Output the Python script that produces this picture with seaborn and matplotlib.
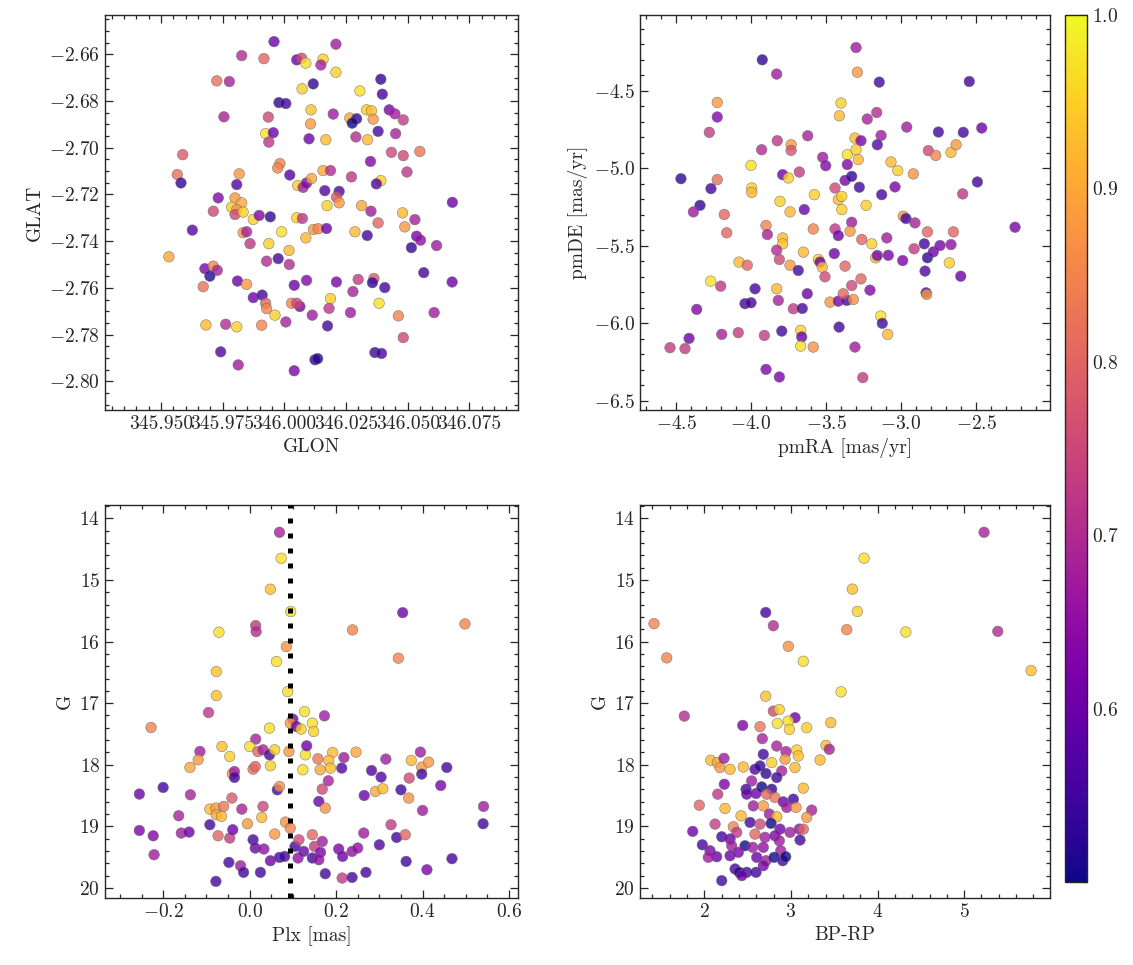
import numpy as np
import pandas as pd
import matplotlib
matplotlib.use("Agg")
import matplotlib.pyplot as plt
import seaborn as sns
from matplotlib.ticker import MultipleLocator, FormatStrFormatter
from matplotlib.colors import Normalize
from matplotlib.cm import ScalarMappable

# --- panel 1: sky position ---
glon = [345.9958, 345.9827, 345.9917, 346.0050, 346.0070, 346.0087, 345.9726, 345.9777, 346.0072, 346.0117,
        345.9978, 346.0006, 345.9755, 345.9935, 346.0108, 346.0106, 345.9924, 345.9955, 345.9937, 346.0100,
        345.9588, 345.9566, 345.9581, 345.9817, 345.9807, 345.9982, 345.9973, 346.0022, 346.0054, 346.0076,
        346.0090, 346.0110, 345.9732, 345.9800, 345.9827, 345.9786, 345.9807, 345.9712, 345.9800, 345.9833,
        345.9874, 345.9898, 345.9943, 346.0050, 346.0073, 346.0118, 345.9627, 345.9532, 345.9833, 345.9847,
        345.9861, 345.9937, 345.9989, 346.0087, 346.0019, 345.9928, 345.9975, 346.0020, 345.9678, 345.9712,
        345.9728, 345.9698, 345.9671, 345.9810, 345.9847, 346.0040, 346.0090, 345.9874, 345.9910, 345.9924,
        345.9928, 345.9962, 346.0006, 346.0029, 346.0063, 346.0113, 345.9682, 345.9762, 345.9807, 345.9908,
        345.9742, 345.9813, 346.0040, 346.0124, 346.0050, 346.0209, 346.0157, 346.0148, 346.0209, 346.0391,
        346.0397, 346.0306, 346.0198, 346.0168, 346.0265, 346.0293, 346.0275, 346.0333, 346.0353, 346.0360,
        346.0290, 346.0337, 346.0380, 346.0425, 346.0448, 346.0482, 346.0451, 346.0434, 346.0482, 346.0549,
        346.0349, 346.0497, 346.0272, 346.0391, 346.0373, 346.0157, 346.0187, 346.0164, 346.0222, 346.0211,
        346.0222, 346.0173, 346.0313, 346.0351, 346.0479, 346.0681, 346.0380, 346.0529, 346.0488, 346.0137,
        346.0171, 346.0286, 346.0336, 346.0536, 346.0552, 346.0515, 346.0617, 346.0211, 346.0299, 346.0363,
        346.0357, 346.0407, 346.0278, 346.0565, 346.0680, 346.0187, 346.0181, 346.0175, 346.0268, 346.0384,
        346.0462, 346.0607, 346.0482, 346.0367, 346.0394, 346.0135]
glat = [-2.6546, -2.6606, -2.6619, -2.6624, -2.6617, -2.6638, -2.6714, -2.6717, -2.6748, -2.6727,
        -2.6807, -2.6811, -2.6868, -2.6869, -2.6838, -2.6898, -2.6940, -2.6936, -2.6976, -2.6962,
        -2.7030, -2.7115, -2.7151, -2.7112, -2.7158, -2.7068, -2.7087, -2.7117, -2.7162, -2.7170,
        -2.7151, -2.7132, -2.7215, -2.7215, -2.7236, -2.7255, -2.7265, -2.7272, -2.7286, -2.7276,
        -2.7307, -2.7290, -2.7296, -2.7300, -2.7303, -2.7350, -2.7353, -2.7467, -2.7364, -2.7360,
        -2.7411, -2.7411, -2.7360, -2.7386, -2.7440, -2.7486, -2.7475, -2.7500, -2.7518, -2.7507,
        -2.7525, -2.7550, -2.7595, -2.7571, -2.7585, -2.7589, -2.7568, -2.7642, -2.7631, -2.7666,
        -2.7689, -2.7717, -2.7746, -2.7666, -2.7680, -2.7717, -2.7759, -2.7756, -2.7767, -2.7760,
        -2.7874, -2.7930, -2.7955, -2.7908, -2.7666, -2.6557, -2.6621, -2.6646, -2.6677, -2.6707,
        -2.6771, -2.6757, -2.6856, -2.6966, -2.6873, -2.6876, -2.6895, -2.6838, -2.6842, -2.6878,
        -2.6954, -2.6966, -2.6930, -2.6838, -2.6855, -2.6881, -2.6940, -2.7020, -2.7034, -2.7016,
        -2.7059, -2.7104, -2.7125, -2.7141, -2.7155, -2.7098, -2.7098, -2.7184, -2.7187, -2.7212,
        -2.7236, -2.7248, -2.7248, -2.7272, -2.7279, -2.7234, -2.7322, -2.7308, -2.7339, -2.7347,
        -2.7346, -2.7360, -2.7376, -2.7379, -2.7396, -2.7428, -2.7419, -2.7575, -2.7564, -2.7560,
        -2.7578, -2.7599, -2.7616, -2.7535, -2.7575, -2.7646, -2.7688, -2.7763, -2.7706, -2.7666,
        -2.7720, -2.7706, -2.7813, -2.7877, -2.7881, -2.7903]
prob1 = [0.60, 0.70, 0.80, 0.60, 0.75, 0.97, 0.82, 0.68, 0.95, 0.53,
         0.53, 0.55, 0.68, 0.75, 0.93, 0.88, 0.97, 0.60, 0.72, 0.60,
         0.78, 0.82, 0.53, 0.88, 0.57, 0.85, 0.85, 0.57, 0.95, 0.68,
         0.62, 0.90, 0.63, 0.88, 0.90, 0.95, 0.88, 0.75, 0.75, 0.95,
         0.95, 0.63, 0.53, 0.95, 0.72, 0.88, 0.57, 0.90, 0.88, 0.68,
         0.72, 0.95, 0.97, 0.92, 0.92, 0.70, 0.55, 0.70, 0.62, 0.85,
         0.68, 0.52, 0.82, 0.60, 0.88, 0.60, 0.63, 0.60, 0.55, 0.80,
         0.85, 0.95, 0.68, 0.85, 0.62, 0.67, 0.92, 0.70, 0.95, 0.85,
         0.57, 0.67, 0.62, 0.53, 0.75, 0.67, 0.95, 0.68, 0.95, 0.53,
         0.55, 0.97, 0.67, 0.92, 0.90, 0.53, 0.50, 0.95, 0.93, 0.88,
         0.70, 0.92, 0.55, 0.62, 0.67, 0.73, 0.68, 0.75, 0.75, 0.83,
         0.63, 0.72, 0.72, 0.95, 0.57, 0.90, 0.70, 0.57, 0.57, 0.78,
         0.88, 0.95, 0.90, 0.67, 0.92, 0.60, 0.80, 0.68, 0.88, 0.85,
         0.60, 0.92, 0.55, 0.62, 0.65, 0.53, 0.67, 0.62, 0.73, 0.78,
         0.53, 0.55, 0.68, 0.55, 0.60, 0.95, 0.72, 0.55, 0.67, 0.97,
         0.85, 0.67, 0.75, 0.55, 0.55, 0.52]

# --- panel 2: proper motions ---
pmra = [-3.925, -3.829, -4.225, -4.225, -4.278, -3.400, -3.411, -3.825, -3.929, -3.733,
        -3.733, -3.622, -4.000, -3.789, -3.751, -3.678, -3.522, -3.502, -3.358, -3.358,
        -3.373, -3.440, -3.418, -3.395, -4.467, -4.225, -4.267, -4.340, -4.384, -3.995,
        -3.995, -3.807, -3.578, -3.645, -3.740, -3.395, -4.178, -3.300, -3.291, -3.145,
        -2.545, -3.225, -3.162, -2.962, -3.133, -3.158, -3.307, -3.267, -3.300, -3.285,
        -3.329, -3.278, -3.129, -3.040, -3.067, -3.022, -2.918, -2.751, -2.585, -2.462,
        -2.818, -2.769, -2.667, -2.633, -2.491, -2.589, -3.233, -4.162, -3.900, -3.891,
        -3.789, -3.789, -3.829, -3.811, -3.740, -3.685, -3.651, -3.585, -3.551, -3.540,
        -3.525, -3.507, -3.440, -3.418, -3.445, -3.373, -4.080, -4.025, -4.269, -4.202,
        -3.973, -3.829, -3.818, -4.040, -4.000, -3.718, -3.658, -3.625, -3.473, -3.418,
        -3.362, -3.385, -4.362, -4.413, -4.540, -4.440, -4.195, -4.085, -3.911, -3.795,
        -3.669, -3.662, -3.669, -3.585, -3.413, -3.900, -3.811, -2.985, -2.967, -2.907,
        -3.329, -3.340, -3.262, -3.195, -3.169, -3.158, -3.095, -3.085, -2.989, -2.913,
        -2.824, -2.651, -2.845, -2.824, -2.785, -2.740, -2.667, -2.678, -2.840, -2.602,
        -2.240, -3.267, -3.329, -3.207, -3.318, -2.833, -2.829, -3.135, -3.125, -3.089,
        -3.307, -3.255]
pmde = [-4.300, -4.392, -4.575, -4.669, -4.768, -4.579, -4.661, -4.822, -4.880, -4.848,
        -4.884, -4.790, -4.981, -5.041, -5.062, -5.024, -4.929, -4.983, -4.912, -4.976,
        -5.078, -5.127, -5.202, -5.181, -5.067, -5.073, -5.131, -5.239, -5.281, -5.127,
        -5.155, -5.213, -5.170, -5.266, -5.281, -5.266, -5.298, -4.221, -4.380, -4.444,
        -4.440, -4.682, -4.640, -4.734, -4.788, -4.848, -4.805, -4.822, -4.880, -4.944,
        -5.052, -5.122, -5.170, -5.120, -4.959, -5.015, -5.036, -4.766, -4.768, -4.740,
        -4.886, -4.917, -4.897, -4.848, -5.088, -5.165, -5.239, -5.416, -5.369, -5.427,
        -5.449, -5.487, -5.528, -5.588, -5.625, -5.659, -5.541, -5.391, -5.588, -5.605,
        -5.638, -5.700, -5.391, -5.434, -5.550, -5.631, -5.605, -5.625, -5.728, -5.760,
        -5.777, -5.777, -5.852, -5.873, -5.867, -5.906, -5.904, -5.809, -5.863, -5.857,
        -5.852, -5.809, -5.910, -6.097, -6.157, -6.163, -6.071, -6.060, -6.078, -6.050,
        -6.045, -6.088, -6.147, -6.153, -6.024, -6.297, -6.346, -5.309, -5.324, -5.352,
        -5.348, -5.406, -5.459, -5.487, -5.577, -5.562, -5.449, -5.561, -5.595, -5.519,
        -5.410, -5.410, -5.487, -5.577, -5.539, -5.498, -5.492, -5.610, -5.663, -5.696,
        -5.380, -5.713, -5.756, -5.786, -5.846, -5.803, -5.814, -5.953, -6.000, -6.071,
        -6.153, -6.350]
prob2 = [0.53, 0.67, 0.88, 0.63, 0.73, 0.95, 0.92, 0.72, 0.70, 0.88,
         0.77, 0.68, 0.97, 0.60, 0.95, 0.73, 0.67, 0.63, 0.97, 0.63,
         0.62, 0.75, 0.92, 0.95, 0.53, 0.82, 0.55, 0.53, 0.67, 0.95,
         0.92, 0.95, 0.95, 0.60, 0.92, 0.95, 0.80, 0.67, 0.88, 0.55,
         0.55, 0.68, 0.70, 0.67, 0.67, 0.57, 0.92, 0.62, 0.95, 0.92,
         0.53, 0.55, 0.55, 0.62, 0.92, 0.95, 0.87, 0.55, 0.55, 0.60,
         0.75, 0.85, 0.92, 0.88, 0.55, 0.72, 0.95, 0.80, 0.85, 0.68,
         0.92, 0.93, 0.70, 0.75, 0.88, 0.55, 0.92, 0.85, 0.95, 0.60,
         0.92, 0.75, 0.72, 0.60, 0.60, 0.80, 0.92, 0.80, 0.97, 0.72,
         0.55, 0.92, 0.68, 0.55, 0.55, 0.73, 0.55, 0.60, 0.88, 0.62,
         0.55, 0.80, 0.63, 0.60, 0.73, 0.73, 0.68, 0.73, 0.73, 0.55,
         0.95, 0.60, 0.97, 0.87, 0.55, 0.63, 0.62, 0.88, 0.55, 0.68,
         0.67, 0.88, 0.80, 0.95, 0.92, 0.62, 0.67, 0.62, 0.62, 0.73,
         0.80, 0.80, 0.55, 0.53, 0.60, 0.62, 0.65, 0.95, 0.57, 0.60,
         0.62, 0.80, 0.75, 0.63, 0.87, 0.55, 0.88, 0.97, 0.55, 0.92,
         0.67, 0.73]

# --- panel 3: parallax vs G ---
plx = [0.069, 0.073, 0.048, 0.095, 0.354, 0.014, 0.015, -0.071, 0.238, 0.498,
       0.085, 0.344, 0.062, -0.077, 0.088, -0.077, -0.095, -0.228, 0.046, 0.100,
       0.094, 0.108, 0.119, 0.127, 0.014, -0.064, -0.046, 0.000, 0.019, 0.031,
       0.046, 0.058, 0.048, 0.091, 0.129, 0.123, 0.132, -0.115, -0.119, -0.138,
       -0.040, -0.035, -0.035, 0.008, 0.013, -0.255, -0.200, -0.137, -0.041, -0.018,
       0.031, 0.028, -0.092, -0.078, -0.060, -0.077, -0.065, 0.064, 0.069, -0.164,
       -0.255, -0.223, -0.221, -0.158, -0.140, -0.092, -0.073, -0.046, -0.039, -0.005,
       0.058, 0.083, 0.094, 0.008, 0.013, 0.033, -0.048, -0.021, -0.014, 0.025,
       -0.078, 0.048, 0.069, 0.081, 0.105, 0.114, 0.112, 0.173, 0.145, 0.148,
       0.192, 0.183, 0.158, 0.163, 0.187, 0.218, 0.213, 0.246, 0.182, 0.168,
       0.160, 0.175, 0.282, 0.304, 0.315, 0.265, 0.291, 0.308, 0.350, 0.368,
       0.369, 0.374, 0.395, 0.398, 0.414, 0.398, 0.456, 0.442, 0.400, 0.541,
       0.540, 0.145, 0.168, 0.150, 0.125, 0.164, 0.145, 0.160, 0.206, 0.215,
       0.237, 0.250, 0.264, 0.300, 0.327, 0.340, 0.360, 0.362, 0.410, 0.468,
       0.175, 0.214, 0.237, 0.269]
g_plx = [14.227, 14.649, 15.151, 15.514, 15.531, 15.741, 15.839, 15.849, 15.811, 15.714,
         16.082, 16.270, 16.325, 16.487, 16.812, 16.877, 17.152, 17.395, 17.405, 17.260,
         17.325, 17.379, 17.421, 17.136, 17.584, 17.703, 17.865, 17.703, 17.784, 17.757,
         17.838, 17.757, 18.016, 17.784, 17.838, 18.081, 17.692, 17.784, 17.919, 18.044,
         18.146, 18.109, 18.206, 18.070, 18.028, 18.475, 18.368, 18.487, 18.540, 18.719,
         18.676, 18.855, 18.719, 18.703, 18.676, 18.811, 18.838, 18.406, 18.352, 18.827,
         19.066, 19.152, 19.460, 19.108, 19.092, 18.973, 19.152, 19.189, 19.054, 18.957,
         19.124, 18.930, 19.027, 19.217, 19.351, 19.367, 19.584, 19.638, 19.746, 19.746,
         19.892, 19.557, 19.503, 19.487, 19.325, 19.217, 19.513, 17.206, 17.324, 17.460,
         17.800, 17.930, 17.903, 18.081, 18.054, 17.882, 18.054, 17.794, 18.260, 18.395,
         18.595, 18.703, 18.093, 18.200, 17.908, 18.498, 18.433, 18.389, 18.406, 18.540,
         18.216, 17.930, 17.794, 18.038, 17.957, 18.151, 18.044, 18.336, 18.741, 18.676,
         18.957, 19.135, 19.244, 19.325, 19.406, 19.422, 19.513, 19.541, 19.367, 19.487,
         19.406, 19.351, 19.108, 19.298, 18.973, 19.179, 19.135, 19.568, 19.703, 19.524,
         19.768, 19.838, 19.828, 19.746]
prob3 = [0.68, 0.97, 0.93, 0.97, 0.60, 0.72, 0.70, 0.97, 0.85, 0.85,
         0.87, 0.85, 0.97, 0.93, 0.97, 0.93, 0.72, 0.85, 0.97, 0.60,
         0.88, 0.60, 0.95, 0.97, 0.68, 0.93, 0.95, 0.97, 0.80, 0.68,
         0.55, 0.95, 0.95, 0.88, 0.97, 0.97, 0.60, 0.67, 0.88, 0.90,
         0.88, 0.67, 0.55, 0.82, 0.80, 0.60, 0.55, 0.68, 0.78, 0.68,
         0.75, 0.92, 0.92, 0.88, 0.83, 0.90, 0.92, 0.55, 0.87, 0.68,
         0.62, 0.63, 0.67, 0.67, 0.60, 0.55, 0.80, 0.73, 0.60, 0.88,
         0.88, 0.87, 0.85, 0.55, 0.60, 0.65, 0.55, 0.67, 0.55, 0.55,
         0.55, 0.60, 0.55, 0.55, 0.55, 0.75, 0.65, 0.67, 0.97, 0.95,
         0.92, 0.92, 0.83, 0.90, 0.93, 0.67, 0.57, 0.90, 0.68, 0.75,
         0.60, 0.87, 0.57, 0.57, 0.67, 0.60, 0.90, 0.92, 0.55, 0.87,
         0.75, 0.92, 0.67, 0.88, 0.88, 0.55, 0.55, 0.62, 0.67, 0.67,
         0.55, 0.80, 0.67, 0.73, 0.60, 0.62, 0.55, 0.65, 0.62, 0.60,
         0.65, 0.65, 0.67, 0.57, 0.73, 0.55, 0.80, 0.55, 0.62, 0.55,
         0.55, 0.73, 0.55, 0.55]
plx_cut = 0.094

# --- panel 4: colour-magnitude diagram ---
bprp = [5.230, 3.844, 3.709, 3.767, 2.709, 2.797, 1.419, 3.644, 4.326, 5.388,
        2.970, 1.566, 3.143, 5.773, 3.579, 2.709, 1.769, 3.047, 2.797, 2.866,
        2.443, 2.643, 2.843, 2.970, 2.982, 3.182, 3.460, 2.670, 3.405, 3.443,
        3.336, 2.074, 2.150, 2.181, 2.297, 2.227, 2.450, 2.681, 2.836, 2.943,
        3.067, 3.085, 2.778, 2.932, 3.047, 2.585, 2.643, 2.712, 2.894, 2.836,
        2.231, 2.547, 3.143, 2.155, 2.482, 2.490, 2.597, 2.663, 2.778, 2.721,
        2.816, 2.912, 3.028, 2.952, 3.059, 3.240, 3.182, 1.942, 2.239, 2.424,
        2.566, 2.681, 2.751, 2.836, 2.528, 2.643, 2.770, 2.124, 2.335, 2.374,
        1.866, 2.201, 2.585, 2.701, 2.874, 2.816, 2.866, 2.990, 3.097, 3.143,
        3.105, 1.977, 2.297, 2.316, 2.470, 2.559, 2.681, 2.882, 2.066, 2.143,
        2.046, 2.297, 2.393, 2.605, 2.712, 2.805, 2.905, 2.940, 2.681, 2.355,
        2.404, 2.490, 2.432, 2.597, 2.201]
g_cmd = [14.227, 14.647, 15.149, 15.511, 15.528, 15.743, 15.710, 15.807, 15.845, 15.835,
         16.078, 16.265, 16.320, 16.471, 16.816, 16.887, 17.210, 17.236, 17.129, 17.102,
         17.361, 17.382, 17.329, 17.291, 17.426, 17.398, 17.317, 17.576, 17.685, 17.749,
         17.922, 17.927, 17.964, 18.045, 18.073, 17.895, 18.036, 17.830, 17.696, 17.786,
         17.760, 17.857, 17.964, 17.911, 18.045, 18.073, 18.019, 18.142, 18.100, 18.207,
         18.316, 18.262, 18.380, 18.477, 18.397, 18.477, 18.466, 18.359, 18.397, 18.477,
         18.531, 18.602, 18.558, 18.692, 18.692, 18.736, 18.854, 18.656, 18.709, 18.828,
         18.667, 18.667, 18.800, 18.844, 18.935, 18.963, 18.951, 18.963, 19.006, 19.097,
         19.081, 19.168, 19.125, 19.178, 19.044, 19.152, 19.233, 19.097, 19.044, 19.044,
         19.221, 19.298, 19.205, 19.314, 19.314, 19.340, 19.340, 19.395, 19.395, 19.492,
         19.502, 19.476, 19.421, 19.502, 19.557, 19.502, 19.557, 19.492, 19.638, 19.691,
         19.745, 19.745, 19.799, 19.745, 19.880]
prob4 = [0.68, 0.97, 0.93, 0.95, 0.55, 0.70, 0.85, 0.85, 0.97, 0.70,
         0.87, 0.85, 0.97, 0.93, 0.97, 0.93, 0.70, 0.60, 0.75, 0.95,
         0.62, 0.83, 0.97, 0.97, 0.95, 0.95, 0.92, 0.68, 0.92, 0.68,
         0.92, 0.92, 0.90, 0.88, 0.92, 0.67, 0.92, 0.55, 0.68, 0.68,
         0.95, 0.93, 0.95, 0.88, 0.92, 0.57, 0.53, 0.53, 0.68, 0.55,
         0.62, 0.67, 0.92, 0.72, 0.55, 0.60, 0.60, 0.50, 0.53, 0.80,
         0.83, 0.60, 0.55, 0.67, 0.88, 0.68, 0.88, 0.80, 0.92, 0.92,
         0.67, 0.88, 0.67, 0.92, 0.55, 0.75, 0.50, 0.73, 0.85, 0.72,
         0.60, 0.55, 0.80, 0.67, 0.60, 0.62, 0.67, 0.67, 0.65, 0.80,
         0.55, 0.55, 0.60, 0.67, 0.50, 0.67, 0.65, 0.67, 0.62, 0.60,
         0.67, 0.60, 0.62, 0.60, 0.67, 0.50, 0.55, 0.50, 0.62, 0.55,
         0.52, 0.55, 0.60, 0.55, 0.55]

vmin, vmax = 0.5, 1.0

sns.set_style("ticks")
plt.rcParams['font.family'] = ['cmr10']
plt.rcParams['mathtext.fontset'] = 'cm'
plt.rcParams['axes.formatter.use_mathtext'] = True
plt.rcParams['font.size'] = 14
plt.rcParams['axes.linewidth'] = 1.0
plt.rcParams['axes.unicode_minus'] = True

fig = plt.figure(figsize=(11.33, 9.65), dpi=100)
W, H = 1133, 965


def box(x0, y0, x1, y1):
    return [x0 / W, 1 - y1 / H, (x1 - x0) / W, (y1 - y0) / H]


ax1 = fig.add_axes(box(105, 15, 518, 410))
ax2 = fig.add_axes(box(640, 15, 1050, 410))
ax3 = fig.add_axes(box(105, 505, 518, 898))
ax4 = fig.add_axes(box(640, 505, 1050, 898))
cax = fig.add_axes(box(1065, 15, 1087, 882))

scatter_kw = dict(palette='plasma', hue_norm=(vmin, vmax), legend=False, s=58,
                  alpha=0.8, edgecolor='0.4', linewidth=0.4)


def draw(ax, x, y, p, xlabel, ylabel):
    df = pd.DataFrame({'x': x, 'y': y, 'p': p})
    sns.scatterplot(data=df, x='x', y='y', hue='p', ax=ax, **scatter_kw)
    ax.set_xlabel(xlabel)
    ax.set_ylabel(ylabel)
    ax.tick_params(which='both', direction='in', top=True, right=True, width=0.9)
    ax.tick_params(which='major', length=6)
    ax.tick_params(which='minor', length=3)


draw(ax1, glon, glat, prob1, 'GLON', 'GLAT')
ax1.set_xlim(345.9273, 346.0947)
ax1.set_ylim(-2.8123, -2.6432)
ax1.xaxis.set_major_locator(MultipleLocator(0.025))
ax1.xaxis.set_minor_locator(MultipleLocator(0.005))
ax1.xaxis.set_major_formatter(FormatStrFormatter('%.3f'))
ax1.yaxis.set_major_locator(MultipleLocator(0.02))
ax1.yaxis.set_minor_locator(MultipleLocator(0.005))

draw(ax2, pmra, pmde, prob2, 'pmRA [mas/yr]', 'pmDE [mas/yr]')
ax2.set_xlim(-4.74, -2.007)
ax2.set_ylim(-6.559, -4.011)
ax2.xaxis.set_major_locator(MultipleLocator(0.5))
ax2.xaxis.set_minor_locator(MultipleLocator(0.1))
ax2.yaxis.set_major_locator(MultipleLocator(0.5))
ax2.yaxis.set_minor_locator(MultipleLocator(0.1))

draw(ax3, plx, g_plx, prob3, 'Plx [mas]', 'G')
ax3.axvline(plx_cut, color='black', lw=3.6, ls=(0, (1, 2)), zorder=5)
ax3.set_xlim(-0.3345, 0.6207)
ax3.set_ylim(20.162, 13.784)
ax3.xaxis.set_major_locator(MultipleLocator(0.2))
ax3.xaxis.set_minor_locator(MultipleLocator(0.05))
ax3.yaxis.set_major_locator(MultipleLocator(1))
ax3.yaxis.set_minor_locator(MultipleLocator(0.2))

draw(ax4, bprp, g_cmd, prob4, 'BP-RP', 'G')
ax4.set_xlim(1.2575, 5.991)
ax4.set_ylim(20.162, 13.784)
ax4.xaxis.set_major_locator(MultipleLocator(1))
ax4.xaxis.set_minor_locator(MultipleLocator(0.2))
ax4.yaxis.set_major_locator(MultipleLocator(1))
ax4.yaxis.set_minor_locator(MultipleLocator(0.2))

sm = ScalarMappable(norm=Normalize(vmin, vmax), cmap='plasma')
cb = fig.colorbar(sm, cax=cax)
cb.set_ticks([0.6, 0.7, 0.8, 0.9, 1.0])
cb.ax.yaxis.set_minor_locator(MultipleLocator(0.02))
cb.ax.tick_params(which='both', direction='in', width=0.9)
cb.ax.tick_params(which='major', length=6)
cb.ax.tick_params(which='minor', length=3)
cb.outline.set_linewidth(1.0)

fig.savefig('out.png', dpi=100)
